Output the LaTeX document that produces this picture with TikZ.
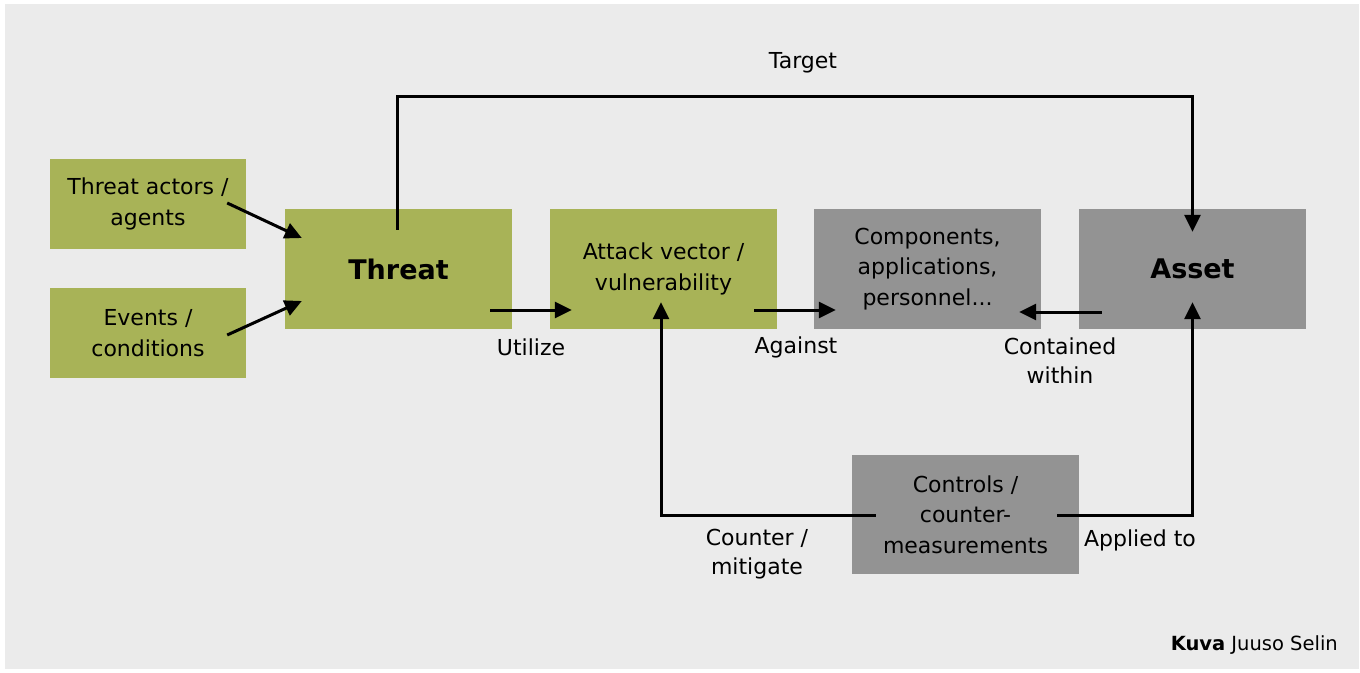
\documentclass[tikz,border=0pt]{standalone}
\usepackage{fontspec}
\setmainfont{DejaVu Sans}
\usetikzlibrary{arrows.meta}
\usetikzlibrary{positioning}

\definecolor{boxgreen}{HTML}{A8B357}
\definecolor{boxgray}{HTML}{939393}
\definecolor{bggray}{HTML}{EBEBEB}

\begin{document}
\begin{tikzpicture}[x=1pt, y=-1pt,
    box/.style={minimum width=227pt, minimum height=120pt, inner sep=0pt, align=center, font=\fontsize{22}{30.5}\selectfont},
    greenbox/.style={box, fill=boxgreen},
    graybox/.style={box, fill=boxgray},
    lbl/.style={align=center, inner sep=0pt, font=\fontsize{22}{29}\selectfont},
    arr/.style={line width=3pt, -{Triangle[length=17pt, width=16pt]}}]
        \useasboundingbox (0,0) rectangle (1360,672);
        \fill[bggray] (5,4) rectangle (1359,669);

        % left inputs
        \node[greenbox, minimum width=196pt, minimum height=90pt] (actors) at (148,204) {Threat actors /\\agents};
        \node[greenbox, minimum width=196pt, minimum height=90pt] (events) at (148,333) {Events /\\conditions};

        % main row
        \node[greenbox, font=\fontsize{27}{30}\selectfont\bfseries] (threat) at (398.5,269) {Threat};
        \node[greenbox] (attack) at (663.5,269) {Attack vector /\\vulnerability};
        \node[graybox] (comp) at (927.5,269) {Components,\\applications,\\personnel...};
        \node[graybox, font=\fontsize{27}{30}\selectfont\bfseries] (asset) at (1192.5,269) {Asset};

        \node[graybox, minimum height=119pt] (ctrl) at (965.5,514.5) {Controls /\\counter-\\measurements};

        \draw[arr] ([shift={(-19,-1)}]actors.east) -- ([shift={(17,-31)}]threat.west);
        \draw[arr] ([shift={(-19,2)}]events.east) -- ([shift={(17,32)}]threat.west);
        \draw[arr] ([shift={(-22,41)}]threat.east) -- ([shift={(22,41)}]attack.west);
        \draw[arr] ([shift={(-23,41)}]attack.east) -- ([shift={(22,41)}]comp.west);
        \draw[arr] ([shift={(23,43)}]asset.west) -- ([shift={(-22,43)}]comp.east);
        \draw[arr] ([shift={(-1.5,21)}]threat.north) -- ++(0,-133) -| ([shift={(0,23)}]asset.north);
        \draw[arr] ([shift={(24,0.5)}]ctrl.west) -| ([shift={(-2.5,-27)}]attack.south);
        \draw[arr] ([shift={(-22,0.5)}]ctrl.east) -| ([shift={(0,-27)}]asset.south);

        \node[lbl] (target) at (803,63) {Target};
        \node[lbl] (utilize) at (531,347) {Utilize};
        \node[lbl] (against) at (796,347) {Against};
        \node[lbl] (contained) at (1060,361) {Contained\\within};
        \node[lbl] (counter) at (757,554) {Counter /\\mitigate};
        \node[lbl] (applied) at (1140,540) {Applied to};

        \node[anchor=east, inner sep=0pt, font=\fontsize{19.5}{22}\selectfont] (credit) at (1338,645) {\textbf{Kuva} Juuso Selin};
      \end{tikzpicture}
\end{document}
